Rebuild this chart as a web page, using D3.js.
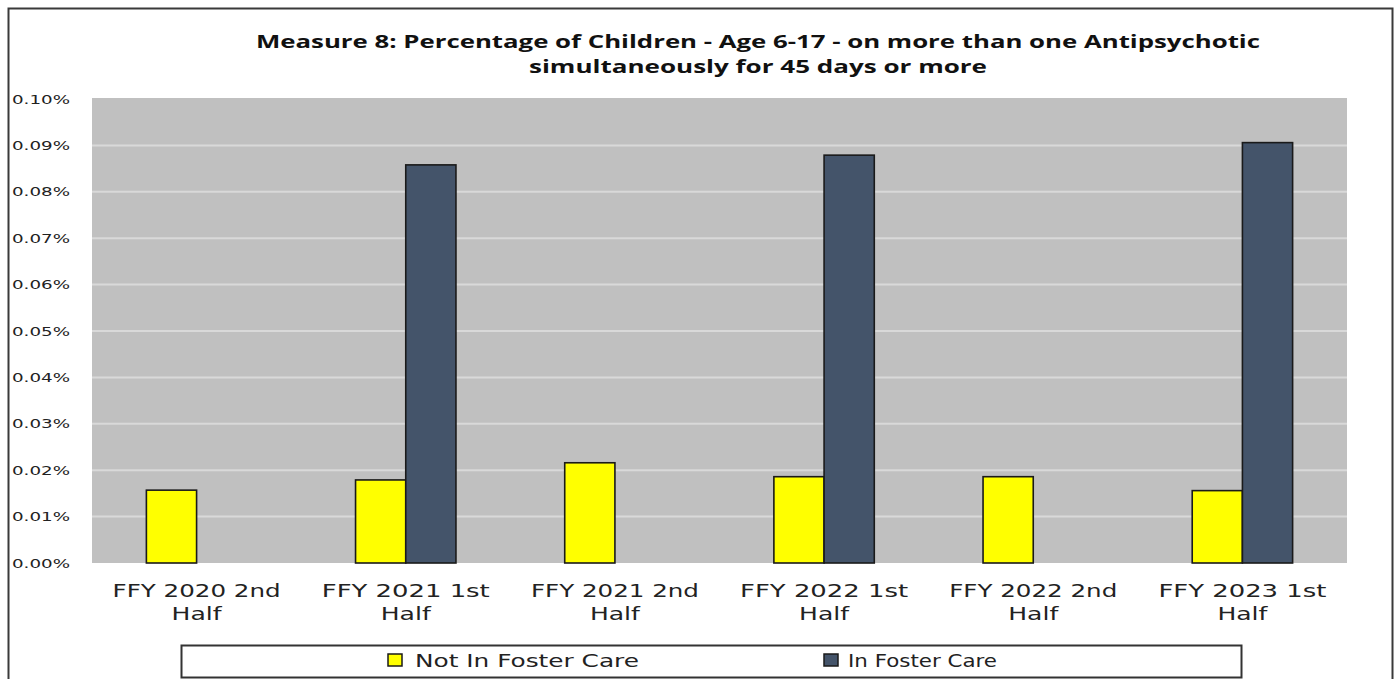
<!DOCTYPE html>
<html>
<head>
<meta charset="utf-8">
<script src="https://cdn.jsdelivr.net/npm/d3@7"></script>
<style>
  html, body { margin: 0; padding: 0; background: #ffffff; }
  svg { display: block; }
</style>
</head>
<body>
<svg id="chart" width="1396" height="679"></svg>
<script>
// Reporting periods (two-line category labels)
const periods = [
  ["FFY 2020 2nd", "Half"],
  ["FFY 2021 1st", "Half"],
  ["FFY 2021 2nd", "Half"],
  ["FFY 2022 1st", "Half"],
  ["FFY 2022 2nd", "Half"],
  ["FFY 2023 1st", "Half"]
];
// Percent values per period (null = not reported)
const notInFosterCare = [0.0157, 0.0179, 0.0216, 0.0186, 0.0186, 0.0156];
const inFosterCare    = [null,   0.0858, null,   0.0879, null,   0.0906];
const seriesNames = ["Not In Foster Care", "In Foster Care"];
const yTicks = [0, 0.01, 0.02, 0.03, 0.04, 0.05, 0.06, 0.07, 0.08, 0.09, 0.10];
const titleLines = [
  "Measure 8: Percentage of Children - Age 6-17 - on more than one Antipsychotic",
  "simultaneously for 45 days or more"
];

const colors = ["#ffff00", "#44546a"];
const svg = d3.select("#chart");

// outer frame
svg.append("rect")
  .attr("x", 8.5).attr("y", 8.5)
  .attr("width", 1384).attr("height", 700)
  .attr("fill", "#ffffff")
  .attr("stroke", "#3a3a3a").attr("stroke-width", 2);

const plot = { left: 92, right: 1347, top: 98, bottom: 563 };

const x0 = d3.scaleBand()
  .domain(d3.range(periods.length))
  .range([plot.left, plot.right])
  .paddingInner(0.52).paddingOuter(0.26);
const x1 = d3.scaleBand()
  .domain([0, 1])
  .range([0, x0.bandwidth()]);
const y = d3.scaleLinear()
  .domain([0, 0.10])
  .range([plot.bottom, plot.top + 1]);

// plot background
svg.append("rect")
  .attr("x", plot.left).attr("y", plot.top)
  .attr("width", plot.right - plot.left).attr("height", plot.bottom - plot.top)
  .attr("fill", "#c0c0c0");

// gridlines
svg.append("g")
  .selectAll("line")
  .data(yTicks.slice(1, -1))
  .join("line")
  .attr("x1", plot.left).attr("x2", plot.right)
  .attr("y1", d => y(d)).attr("y2", d => y(d))
  .attr("stroke", "#d9d9d9").attr("stroke-width", 2);

// y axis labels
const yAxis = d3.axisLeft(y)
  .tickValues(yTicks)
  .tickSize(0)
  .tickPadding(0)
  .tickFormat(d => d.toFixed(2) + "%");
const yg = svg.append("g")
  .attr("transform", `translate(70,0)`)
  .call(yAxis);
yg.select(".domain").remove();
yg.selectAll("text")
  .attr("font-family", "DejaVu Sans, Verdana, sans-serif")
  .attr("font-size", 13)
  .attr("fill", "#222")
  .attr("textLength", 58)
  .attr("lengthAdjust", "spacingAndGlyphs");

// bars
const rows = periods.map((p, i) => [notInFosterCare[i], inFosterCare[i]]);
const groups = svg.append("g").selectAll("g")
  .data(rows)
  .join("g")
  .attr("transform", (d, i) => `translate(${x0(i)},0)`);
groups.selectAll("rect")
  .data(d => d.map((v, s) => ({ v, s })).filter(e => e.v != null))
  .join("rect")
  .attr("x", e => x1(e.s))
  .attr("width", x1.bandwidth())
  .attr("y", e => y(e.v))
  .attr("height", e => y(0) - y(e.v))
  .attr("fill", e => colors[e.s])
  .attr("stroke", "#1a1a1a")
  .attr("stroke-width", 1.6);

// x axis category labels
const xg = svg.append("g");
periods.forEach((lines, i) => {
  const cx = x0(i) + x0.bandwidth() / 2;
  const t = xg.append("text")
    .attr("x", cx).attr("y", 597)
    .attr("text-anchor", "middle")
    .attr("font-family", "DejaVu Sans, Verdana, sans-serif")
    .attr("font-size", 18)
    .attr("fill", "#222");
  t.append("tspan").attr("x", cx).attr("dy", 0).text(lines[0])
    .attr("textLength", 168).attr("lengthAdjust", "spacingAndGlyphs");
  t.append("tspan").attr("x", cx).attr("dy", 23).text(lines[1])
    .attr("textLength", 50).attr("lengthAdjust", "spacingAndGlyphs");
});

// title
const titleWidths = [1004, 458];
titleLines.forEach((line, i) => {
  svg.append("text")
    .attr("x", 758).attr("y", 48 + i * 25)
    .attr("text-anchor", "middle")
    .attr("font-family", "Open Sans, Liberation Sans, sans-serif")
    .attr("font-weight", "bold")
    .attr("font-size", 17)
    .attr("fill", "#111")
    .attr("textLength", titleWidths[i])
    .attr("lengthAdjust", "spacingAndGlyphs")
    .text(line);
});

// legend
svg.append("rect")
  .attr("x", 181.5).attr("y", 645.5)
  .attr("width", 1060).attr("height", 32)
  .attr("fill", "#ffffff")
  .attr("stroke", "#333").attr("stroke-width", 2);
const legendItems = [
  { sx: 388, tx: 415, tw: 224 },
  { sx: 824, tx: 848, tw: 149 }
];
legendItems.forEach((it, s) => {
  svg.append("rect")
    .attr("x", it.sx).attr("y", 654)
    .attr("width", 14).attr("height", 12)
    .attr("fill", colors[s])
    .attr("stroke", "#1a1a1a").attr("stroke-width", 1.5);
  svg.append("text")
    .attr("x", it.tx).attr("y", 667)
    .attr("font-family", "DejaVu Sans, Verdana, sans-serif")
    .attr("font-size", 18)
    .attr("fill", "#222")
    .attr("textLength", it.tw)
    .attr("lengthAdjust", "spacingAndGlyphs")
    .text(seriesNames[s]);
});
</script>
</body>
</html>
